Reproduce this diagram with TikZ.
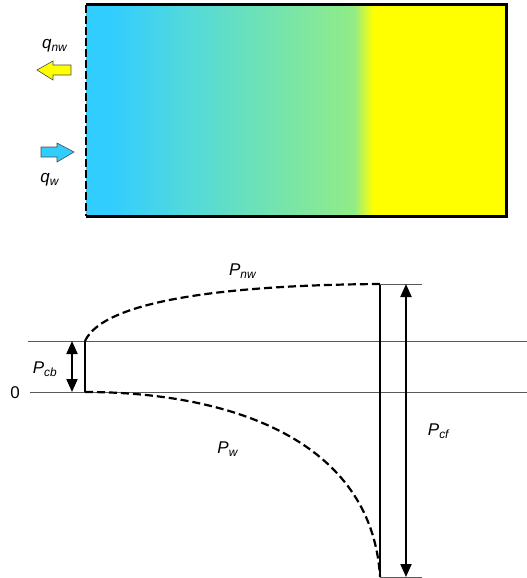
\documentclass[tikz,border=0pt]{standalone}
\usepackage{fontspec}
\setmainfont{Liberation Sans}
\usetikzlibrary{arrows.meta}

\definecolor{waterblue}{RGB}{50,205,255}
\definecolor{mixteal}{RGB}{85,218,215}
\definecolor{mixgreen}{RGB}{145,236,135}
\definecolor{oilyellow}{RGB}{255,255,0}

% Saturation front, left to right (box spans 25bp..75bp)
\pgfdeclarehorizontalshading{flood}{100bp}{color(0bp)=(waterblue); color(28bp)=(waterblue); color(38bp)=(mixteal); color(56.9bp)=(mixgreen); color(59.2bp)=(oilyellow); color(100bp)=(oilyellow)}

\newcommand{\lab}[2]{\textit{#1}\textsubscript{\textit{#2}}}

\tikzset{
  thinline/.style={draw=black!65, line width=0.9pt},
  wall/.style={draw=black, line width=2pt},
  profile/.style={draw=black, line width=2.2pt, dash pattern=on 8pt off 4pt},
  dimarrow/.style={draw=black, line width=2pt, {Triangle[length=13pt,width=11pt]}-{Triangle[length=13pt,width=11pt]}},
  lbl/.style={font=\fontsize{17}{20}\selectfont, inner sep=1pt}
}

\begin{document}
\begin{tikzpicture}[x=1pt,y=-1pt]
\useasboundingbox (0,0) rectangle (527,578);

%%%%%%%%%%%% Core sample %%%%%%%%%%%%%%%%%%%

% Coloured saturation
\fill[shading=flood, shading angle=0] (86,5) rectangle (506,216);
% Closed walls
\draw[black, line width=3pt] (86,5) -- (506,5) -- (506,216) -- (86,216);
% Open inlet face
\draw[black, line width=2pt, dash pattern=on 8pt off 3pt] (86,5) -- (86,216);

% Non-wetting phase out
\filldraw[fill=oilyellow, draw=black!70, line width=0.6pt] (37,70) -- (53,61) -- (53,65) -- (71,65) -- (71,75) -- (53,75) -- (53,80) -- cycle;
\node[lbl] (qnw) at (55,46) {\lab{q}{nw}};

% Wetting phase in
\filldraw[fill=waterblue, draw=black!70, line width=0.6pt] (74,152) -- (57,143) -- (57,147) -- (41,147) -- (41,157) -- (57,157) -- (57,162) -- cycle;
\node[lbl] (qw) at (50,180) {\lab{q}{w}};

%%%%%%%%%%%% Pressure profile %%%%%%%%%%%%%%%%%%%

\coordinate (cbtop) at (85,341);
\coordinate (cbbot) at (85,392);
\coordinate (cftop) at (380,284);
\coordinate (cfbot) at (380,577);

% Reference levels
\draw[thinline] (28,341) -- (527,341);
\draw[thinline] (30,392) -- (527,392);
\node[lbl] (zero) at (15,393) {0};

% Capillary end jump
\draw[wall] (cbtop) -- (cbbot);
\draw[dimarrow] (72,341) -- (72,392);
\node[lbl] (pcb) at (45,369) {\lab{P}{cb}};

% Non-wetting pressure
\draw[profile] (cbtop) .. controls (105,298) and (240,285) .. (cftop);
\node[lbl] (pnw) at (243,271) {\lab{P}{nw}};

% Wetting pressure
\draw[profile] (cbbot) .. controls (230,392) and (372,440) .. (cfbot);
\node[lbl] (pw) at (228,449) {\lab{P}{w}};

% Front capillary pressure
\draw[wall] (cftop) -- (cfbot);
\draw[thinline] (cftop) -- (422,284);
\draw[thinline] (cfbot) -- (422,577);
\draw[dimarrow] (406,284) -- (406,577);
\node[lbl] (pcf) at (439,431) {\lab{P}{cf}};

\end{tikzpicture}
\end{document}
